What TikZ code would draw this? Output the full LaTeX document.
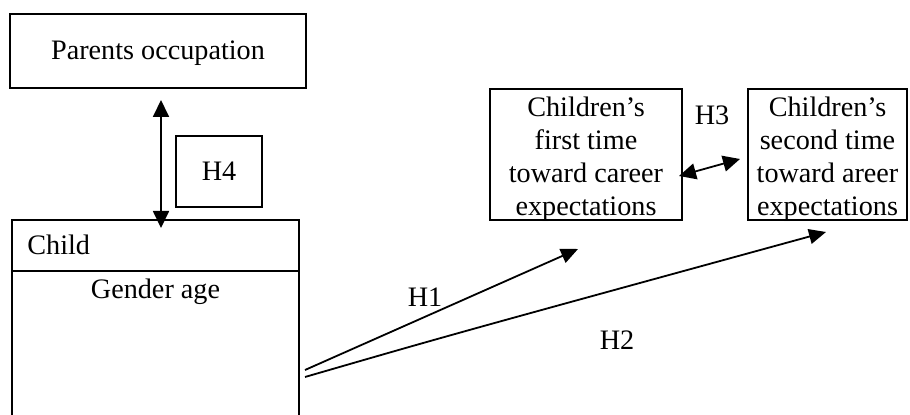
\documentclass[tikz,border=0pt]{standalone}
\usepackage{fontspec}
\setmainfont{Liberation Serif}
\usetikzlibrary{arrows.meta}
\begin{document}
\begin{tikzpicture}[x=0.5pt,y=-0.5pt,
  every node/.style={font=\fontsize{14.1}{16.5}\selectfont},
  boxed/.style={draw=black,line width=0.7pt,rectangle,inner sep=0pt,align=center},
  lbl/.style={inner sep=0pt,align=center},
  conn/.style={line width=0.9pt,-{Triangle[length=8.5pt,width=7.5pt]}},
  dconn/.style={line width=0.9pt,{Triangle[length=8.5pt,width=8pt]}-{Triangle[length=8.5pt,width=8pt]}}]
\useasboundingbox (0,0) rectangle (910,415);
% boxes
\node[boxed,minimum width=148pt,minimum height=37pt] (po) at (158,51) {};
\node[lbl] (potxt) at (158,53) {Parents occupation};
\node[boxed,minimum width=43pt,minimum height=35.5pt] (h4) at (219,171.5) {H4};
\node[boxed,minimum width=143.5pt,minimum height=105pt] (child) at (155.5,325) {};
\node[lbl,anchor=west] (childlbl) at (27,245) {Child};
\node[lbl] (gender) at (155.5,292) {Gender age};
\draw[line width=0.7pt] (child.west |- 0,271) coordinate (divl) -- (child.east |- 0,271) coordinate (divr);
\node[boxed,minimum width=96pt,minimum height=65.5pt] (b1) at (586,154.5) {};
\node[lbl] (b1txt) at (586,159) {Children’s\\first time\\toward career\\expectations};
\node[boxed,minimum width=79.5pt,minimum height=65.5pt] (b2) at (827.5,154.5) {};
\node[lbl] (b2txt) at (827.5,159) {Children’s\\second time\\toward areer\\expectations};
% labels
\node[lbl] (h1) at (425,297) {H1};
\node[lbl] (h2) at (617,340) {H2};
\node[lbl] (h3) at (712,115) {H3};
% connector end points
\coordinate (h4top) at (161,100);
\coordinate (h4bot) at (161,228);
\coordinate (h3l) at (679,176);
\coordinate (h3r) at (740,159);
\coordinate (s1) at (305,370);
\coordinate (t1) at (578,249);
\coordinate (s2) at (305,377);
\coordinate (t2) at (826,232);
% connectors
\draw[dconn] (h4top) -- (h4bot);
\draw[dconn] (h3l) -- (h3r);
\draw[conn] (s1) -- (t1);
\draw[conn] (s2) .. controls (450,335) .. (t2);
\end{tikzpicture}
\end{document}
